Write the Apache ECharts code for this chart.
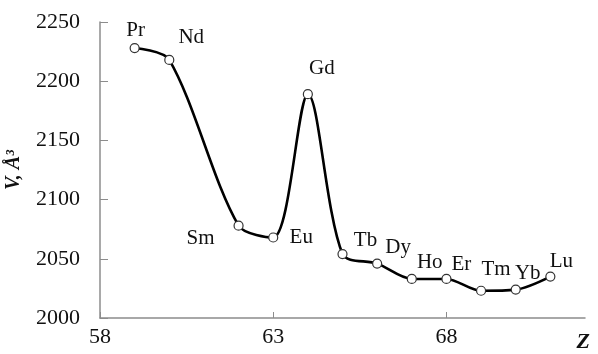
<!DOCTYPE html>
<html>
<head>
<meta charset="utf-8">
<style>
  html, body { margin: 0; padding: 0; background: #fff; }
  #chart { width: 598px; height: 354px; }
</style>
<script src="https://cdn.jsdelivr.net/npm/echarts@6/dist/echarts.min.js"></script>
</head>
<body>
<div id="chart"></div>
<script>
// lanthanides: atomic number Z vs cell volume V
var elements = ['Pr', 'Nd', 'Sm', 'Eu', 'Gd', 'Tb', 'Dy', 'Ho', 'Er', 'Tm', 'Yb', 'Lu'];
var zValues = [59, 60, 62, 63, 64, 65, 66, 67, 68, 69, 70, 71];
var volumes = [2228, 2218, 2078, 2068, 2189, 2054, 2046, 2033, 2033, 2023, 2024, 2035];

// where each element name sits relative to its point (px)
var labelOffsets = [[1, -18], [22, -22], [-38, 13], [28, 0], [14, -26], [23, -14],
                    [21, -16], [18, -16], [15, -14], [15, -21], [12, -16], [11, -15]];

var serif = '"Liberation Serif", "DejaVu Serif", serif';
var axisGray = '#8c8c8c';

var chart = echarts.init(document.getElementById('chart'));

var points = [];
for (var i = 0; i < zValues.length; i++) {
    points.push({
        value: [zValues[i], volumes[i]],
        name: elements[i],
        label: { offset: labelOffsets[i] }
    });
}

var option = {
    animation: false,
    grid: { left: 100, right: 13, top: 22, bottom: 36, containLabel: false, outerBoundsMode: 'none' },
    xAxis: {
        type: 'value',
        min: 58,
        max: 72,
        interval: 5,
        axisLine: { lineStyle: { color: axisGray, width: 1.5 } },
        axisTick: { inside: true, length: 6, lineStyle: { color: axisGray } },
        splitLine: { show: false },
        axisLabel: {
            showMaxLabel: false,
            color: '#111',
            fontFamily: serif,
            fontSize: 22,
            margin: 8
        }
    },
    yAxis: {
        type: 'value',
        min: 2000,
        max: 2250,
        interval: 50,
        name: 'V, Å³',
        nameLocation: 'middle',
        nameRotate: 90,
        nameGap: 76,
        nameTextStyle: {
            color: '#111',
            fontFamily: serif,
            fontStyle: 'italic',
            fontWeight: 'bold',
            fontSize: 20
        },
        axisLine: { show: true, lineStyle: { color: axisGray, width: 1.5 } },
        axisTick: { show: true, inside: true, length: 8, lineStyle: { color: axisGray } },
        splitLine: { show: false },
        axisLabel: {
            formatter: function (v) { return String(v); },
            color: '#111',
            fontFamily: serif,
            fontSize: 22,
            margin: 20
        }
    },
    graphic: [{
        type: 'text',
        right: 8,
        bottom: 1,
        style: {
            text: 'Z',
            fill: '#111',
            font: 'italic bold 22px ' + serif
        }
    }],
    series: [{
        type: 'line',
        data: points,
        smooth: 0.3,
        symbol: 'circle',
        symbolSize: 9,
        itemStyle: { color: '#fff', borderColor: '#333', borderWidth: 1.2 },
        lineStyle: { color: '#000', width: 2.6 },
        label: {
            show: true,
            position: 'inside',
            align: 'center',
            verticalAlign: 'middle',
            formatter: '{b}',
            color: '#111',
            fontFamily: serif,
            fontSize: 21
        }
    }]
};

chart.setOption(option);
</script>
</body>
</html>
